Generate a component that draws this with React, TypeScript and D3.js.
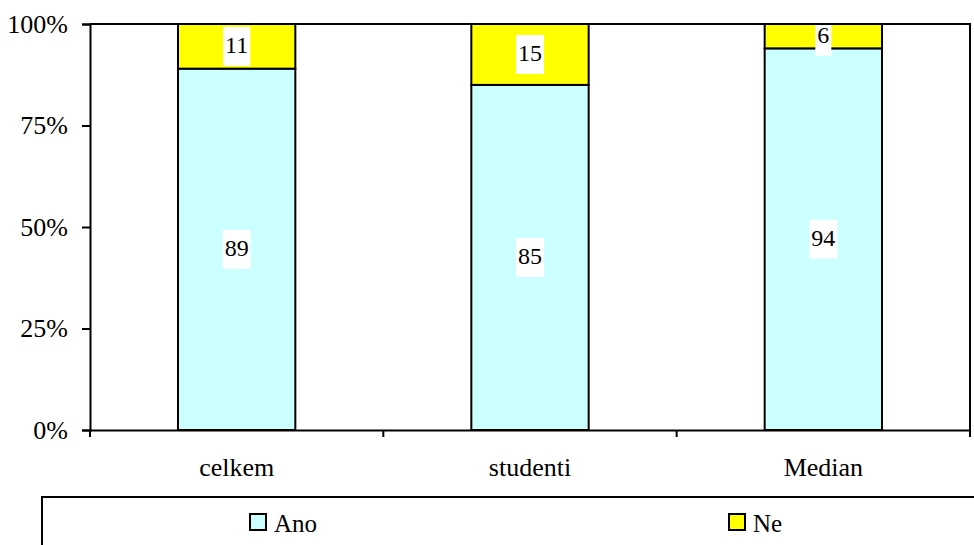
import React, { useEffect, useRef } from 'react';
import * as d3 from 'd3';

const categories = ['celkem', 'studenti', 'Median'];
const ano = [89, 85, 94];
const ne = [11, 15, 6];
const yTicks = [0, 25, 50, 75, 100];
const seriesNames = ['Ano', 'Ne'];
const seriesColors = ['#CCFFFF', '#FFFF00'];

const FONT = "'Liberation Serif', 'Times New Roman', Times, serif";

const App: React.FC = () => {
  const svgRef = useRef<SVGSVGElement>(null);

  useEffect(() => {
    if (!svgRef.current) return;
    const svg = d3.select(svgRef.current);
    svg.selectAll('*').remove();

    const left = 90;
    const right = 970;
    const top = 24;
    const bottom = 430;

    const x = d3.scaleBand().domain(categories).range([left, right]).paddingInner(0).paddingOuter(0);
    const y = d3.scaleLinear().domain([0, 100]).range([bottom, top]);
    const barW = x.bandwidth() * 0.4;

    // stacked data
    const rows = categories.map((c, i) => ({ cat: c, Ano: ano[i], Ne: ne[i] }));
    const stack = d3.stack<any>().keys(seriesNames)(rows);

    svg
      .append('defs')
      .append('clipPath')
      .attr('id', 'plotclip')
      .append('rect')
      .attr('x', left)
      .attr('y', top)
      .attr('width', right - left)
      .attr('height', bottom - top);

    // bars
    stack.forEach((layer, si) => {
      svg
        .append('g')
        .selectAll('rect')
        .data(layer)
        .enter()
        .append('rect')
        .attr('x', (d) => (x(d.data.cat) || 0) + (x.bandwidth() - barW) / 2)
        .attr('y', (d) => y(d[1]))
        .attr('width', barW)
        .attr('height', (d) => y(d[0]) - y(d[1]))
        .attr('fill', seriesColors[si])
        .attr('stroke', '#000')
        .attr('stroke-width', 2);
    });

    // value labels (white boxes)
    const labels = svg.append('g').attr('clip-path', 'url(#plotclip)');
    stack.forEach((layer) => {
      layer.forEach((d) => {
        const cx = (x(d.data.cat) || 0) + x.bandwidth() / 2;
        const cy = y((d[0] + d[1]) / 2);
        const val = String(d[1] - d[0]);
        const box = labels.append('rect').attr('fill', '#fff');
        const t = labels
          .append('text')
          .attr('x', cx)
          .attr('y', cy + 7)
          .attr('text-anchor', 'middle')
          .attr('font-family', FONT)
          .attr('font-size', 24)
          .text(val);
        const w = (t.node() as SVGTextElement).getComputedTextLength() + 4;
        box
          .attr('x', cx - w / 2)
          .attr('y', cy - 19.5)
          .attr('width', w)
          .attr('height', 39);
      });
    });

    // frame: top + right
    svg
      .append('path')
      .attr('d', `M${left},${top}H${right}V${bottom}`)
      .attr('fill', 'none')
      .attr('stroke', '#000')
      .attr('stroke-width', 2);

    // y axis
    const yAxis = svg
      .append('g')
      .attr('transform', `translate(${left},0)`)
      .call(
        d3
          .axisLeft(y)
          .tickValues(yTicks)
          .tickSize(8)
          .tickPadding(14)
          .tickFormat((d) => `${d}%`)
      );
    yAxis.attr('font-family', FONT).attr('font-size', 26);
    yAxis.select('.domain').attr('stroke-width', 2);
    yAxis.selectAll('.tick line').attr('stroke-width', 2);
    yAxis.selectAll('text').attr('fill', '#000');

    // x axis
    const xAxis = svg
      .append('g')
      .attr('transform', `translate(0,${bottom})`)
      .call(d3.axisBottom(x).tickSize(0).tickPadding(28));
    xAxis.attr('font-family', FONT).attr('font-size', 26);
    xAxis.select('.domain').attr('stroke-width', 2);
    xAxis.selectAll('text').attr('fill', '#000');
    // boundary ticks between categories
    const bounds = [left, ...categories.map((c) => (x(c) || 0) + x.bandwidth())];
    xAxis
      .selectAll('.bound')
      .data(bounds)
      .enter()
      .append('line')
      .attr('x1', (d) => d)
      .attr('x2', (d) => d)
      .attr('y1', 0)
      .attr('y2', 7)
      .attr('stroke', '#000')
      .attr('stroke-width', 2);

    // legend
    svg
      .append('rect')
      .attr('x', 42)
      .attr('y', 497)
      .attr('width', 960)
      .attr('height', 80)
      .attr('fill', '#fff')
      .attr('stroke', '#000')
      .attr('stroke-width', 2);
    const legendX = [250, 729];
    seriesNames.forEach((name, i) => {
      svg
        .append('rect')
        .attr('x', legendX[i])
        .attr('y', 514)
        .attr('width', 16)
        .attr('height', 16)
        .attr('fill', seriesColors[i])
        .attr('stroke', '#000')
        .attr('stroke-width', 2);
      svg
        .append('text')
        .attr('x', legendX[i] + 24)
        .attr('y', 532)
        .attr('font-family', FONT)
        .attr('font-size', 25)
        .text(name);
    });
  }, []);

  return (
    <svg
      ref={svgRef}
      width={974}
      height={545}
      fontFamily={FONT}
      style={{ position: 'absolute', left: 0, top: 0, background: '#fff' }}
    ></svg>
  );
};

export default App;
